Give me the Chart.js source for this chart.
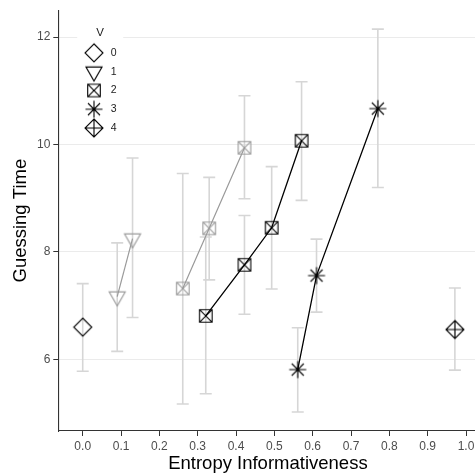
<!DOCTYPE html>
<html>
<head>
<meta charset="utf-8">
<script src="https://cdn.jsdelivr.net/npm/chart.js@4.4.1/dist/chart.umd.min.js"></script>
<style>
  html, body { margin: 0; padding: 0; background: #fff; overflow: hidden; }
  #wrap { width: 488px; height: 475px; }
</style>
</head>
<body>
<div id="wrap"><canvas id="grafico"></canvas></div>
<script>
// valores
const xTicks = [0.0, 0.1, 0.2, 0.3, 0.4, 0.5, 0.6, 0.7, 0.8, 0.9, 1.0];
const yTicks = [6, 8, 10, 12];
const niveles = ["0", "1", "2", "3", "4"];

// V = 0
const v0X = [0.0];
const v0Y = [6.60];
const v0Lo = [5.78];
const v0Hi = [7.41];

// V = 1 (gris)
const v1X = [0.090, 0.130];
const v1Y = [7.17, 8.25];
const v1Lo = [6.15, 6.78];
const v1Hi = [8.17, 9.75];

// V = 2 (gris)
const v2gX = [0.261, 0.330, 0.422];
const v2gY = [7.32, 8.44, 9.94];
const v2gLo = [5.17, 7.48, 8.99];
const v2gHi = [9.46, 9.39, 10.91];

// V = 2 (negro)
const v2nX = [0.321, 0.422, 0.493, 0.571];
const v2nY = [6.81, 7.76, 8.45, 10.07];
const v2nLo = [5.36, 6.84, 7.31, 8.96];
const v2nHi = [8.28, 8.68, 9.59, 11.17];

// V = 3
const v3X = [0.561, 0.610, 0.770];
const v3Y = [5.81, 7.56, 10.67];
const v3Lo = [5.02, 6.88, 9.20];
const v3Hi = [6.59, 8.24, 12.15];

// V = 4
const v4X = [0.971];
const v4Y = [6.556];
const v4Lo = [5.80];
const v4Hi = [7.33];

const NEGRO = "#000000";
const GRIS = "#9a9a9a";

Chart.defaults.font.family = "'Liberation Sans', Arial, sans-serif";

// formas de R (pch 5..9)
function marcador(forma, color) {
  const c = document.createElement("canvas");
  c.width = 24; c.height = 24;
  const g = c.getContext("2d");
  g.strokeStyle = color;
  g.lineWidth = 1.1;
  g.translate(12, 12);
  g.beginPath();
  if (forma === "diamond" || forma === "diamondPlus") {
    const r = 9;
    g.moveTo(0, -r); g.lineTo(r, 0); g.lineTo(0, r); g.lineTo(-r, 0); g.closePath();
    if (forma === "diamondPlus") {
      g.moveTo(0, -r); g.lineTo(0, r);
      g.moveTo(-r, 0); g.lineTo(r, 0);
    }
  } else if (forma === "triDown") {
    const r = 9.3;
    g.moveTo(-0.866 * r, -r / 2); g.lineTo(0.866 * r, -r / 2); g.lineTo(0, r); g.closePath();
  } else if (forma === "squareX") {
    const h = 6.3;
    g.rect(-h, -h, 2 * h, 2 * h);
    g.moveTo(-h, -h); g.lineTo(h, h);
    g.moveTo(h, -h); g.lineTo(-h, h);
  } else if (forma === "asterisk") {
    const r = 8.5, d = r / Math.SQRT2;
    g.moveTo(-r, 0); g.lineTo(r, 0);
    g.moveTo(0, -r); g.lineTo(0, r);
    g.moveTo(-d, -d); g.lineTo(d, d);
    g.moveTo(d, -d); g.lineTo(-d, d);
  }
  g.stroke();
  return c;
}

const formas = ["diamond", "triDown", "squareX", "asterisk", "diamondPlus"];
const marcasLeyenda = formas.map(f => marcador(f, NEGRO));

function serie(xs, ys, lo, hi, forma, color, ancho) {
  return {
    data: xs.map((x, i) => ({ x: x, y: ys[i] })),
    errLo: lo,
    errHi: hi,
    showLine: xs.length > 1,
    borderColor: color,
    borderWidth: ancho,
    pointStyle: marcador(forma, color),
    pointRadius: 9,
    pointHoverRadius: 9,
    tension: 0
  };
}

// barras de error + fondo blanco de la leyenda
const barrasError = {
  id: "barrasError",
  afterLayout(chart) {
    const l = chart.legend;
    l.left = 74.2;
    l.top = 27;
    l.width = 52;
    l.right = l.left + l.width;
    l.bottom = chart.chartArea.bottom;
    l.height = l.bottom - l.top;
  },
  beforeDatasetsDraw(chart) {
    const ctx = chart.ctx;
    const x = chart.scales.x, y = chart.scales.y;
    const l = chart.legend;
    ctx.save();
    ctx.fillStyle = "#ffffff";
    ctx.fillRect(l.left + 3, l.top, l.width - 6, 112);
    ctx.restore();
    l.draw();

    ctx.save();
    ctx.strokeStyle = "#d6d6d6";
    ctx.lineWidth = 1.6;
    chart.data.datasets.forEach(ds => {
      ds.data.forEach((p, i) => {
        const px = x.getPixelForValue(p.x);
        const a = y.getPixelForValue(ds.errLo[i]);
        const b = y.getPixelForValue(ds.errHi[i]);
        ctx.beginPath();
        ctx.moveTo(px, a); ctx.lineTo(px, b);
        ctx.moveTo(px - 6, a); ctx.lineTo(px + 6, a);
        ctx.moveTo(px - 6, b); ctx.lineTo(px + 6, b);
        ctx.stroke();
      });
    });
    ctx.restore();
  }
};

new Chart(document.getElementById("grafico"), {
  type: "scatter",
  data: {
    datasets: [
      serie(v0X, v0Y, v0Lo, v0Hi, "diamond", NEGRO, 1.3),
      serie(v1X, v1Y, v1Lo, v1Hi, "triDown", GRIS, 1.2),
      serie(v2gX, v2gY, v2gLo, v2gHi, "squareX", GRIS, 1.2),
      serie(v2nX, v2nY, v2nLo, v2nHi, "squareX", NEGRO, 1.3),
      serie(v3X, v3Y, v3Lo, v3Hi, "asterisk", NEGRO, 1.3),
      serie(v4X, v4Y, v4Lo, v4Hi, "diamondPlus", NEGRO, 1.3)
    ]
  },
  options: {
    responsive: true,
    maintainAspectRatio: false,
    animation: false,
    devicePixelRatio: 1,
    layout: { padding: { top: 8, right: 10.5, left: 0, bottom: 0 } },
    plugins: {
      tooltip: { enabled: false },
      legend: {
        position: "chartArea",
        align: "start",
        title: {
          display: true,
          text: "V",
          position: "center",
          color: "#1a1a1a",
          font: { size: 11.5 },
          padding: { top: 0, bottom: -1.5 }
        },
        labels: {
          usePointStyle: true,
          pointStyleWidth: 23,
          padding: 8.3,
          color: "#1a1a1a",
          font: { size: 10.5 },
          generateLabels: () => niveles.map((t, i) => ({
            text: t,
            pointStyle: marcasLeyenda[i],
            fillStyle: "transparent",
            strokeStyle: "transparent",
            lineWidth: 0,
            fontColor: "#1a1a1a",
            hidden: false,
            datasetIndex: i
          }))
        }
      }
    },
    scales: {
      x: {
        type: "linear",
        min: -0.0637,
        max: 1.03,
        afterBuildTicks: s => { s.ticks = xTicks.map(v => ({ value: v })); },
        afterFit: s => { s.height = 44; },
        ticks: {
          callback: v => Number(v).toFixed(1),
          color: "#4d4d4d",
          font: { size: 12 },
          padding: 3,
          maxRotation: 0,
          autoSkip: false
        },
        grid: { drawOnChartArea: false, drawTicks: true, tickLength: 5, tickColor: "#333333", tickWidth: 1 },
        border: { color: "#333333", width: 1.1 },
        title: {
          display: true,
          text: "Entropy Informativeness",
          color: "#000000",
          font: { size: 18.5 },
          padding: { top: 0, bottom: 0 }
        }
      },
      y: {
        type: "linear",
        min: 4.6667,
        max: 12.5,
        afterBuildTicks: s => { s.ticks = yTicks.map(v => ({ value: v })); },
        afterFit: s => { s.width = 58.3; },
        ticks: {
          callback: v => String(v),
          color: "#4d4d4d",
          font: { size: 12 },
          padding: 3
        },
        grid: { color: "#ebebeb", lineWidth: 1, tickLength: 5, tickColor: "#333333", tickWidth: 1 },
        border: { color: "#333333", width: 1.1 },
        title: {
          display: true,
          text: "Guessing Time",
          color: "#000000",
          font: { size: 18.5 },
          padding: { top: 10, bottom: 0 }
        }
      }
    }
  },
  plugins: [barrasError]
});
</script>
</body>
</html>
